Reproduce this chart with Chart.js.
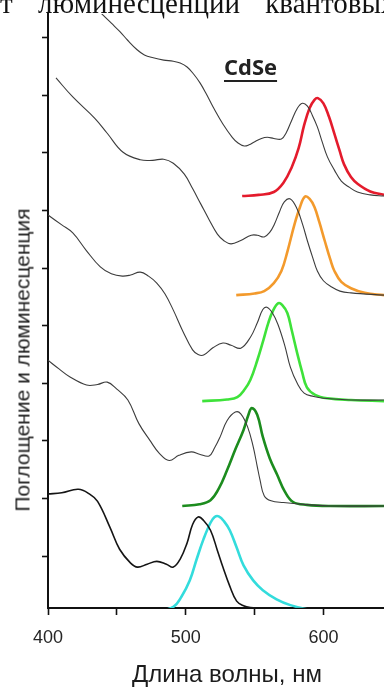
<!DOCTYPE html>
<html>
<head>
<meta charset="utf-8">
<script src="https://cdn.jsdelivr.net/npm/chart.js@4.4.1/dist/chart.umd.min.js"></script>
<style>
  body { margin: 0; background: #fff; }
  #wrap { position: relative; width: 384px; height: 687px; overflow: hidden; }
  canvas { position: absolute; left: 0; top: 0; }
  .txt { position: absolute; white-space: nowrap; color: #1c1c1c; }
  #caption { left: 0; top: -11px; font: 29px "Liberation Serif", "Times New Roman", serif; line-height: 29px; word-spacing: 18px; color: #111; }
  #ytitle { left: 22px; top: 360px; font: 21px "Liberation Sans", Arial, sans-serif; line-height: 21px; transform: translate(-50%, -50%) rotate(-90deg); }
  #xtitle { left: 227px; top: 662px; font: 24px "Liberation Sans", Arial, sans-serif; line-height: 24px; transform: translateX(-50%); }
  #cdse { left: 224px; top: 55px; font: bold 22px "Open Sans", sans-serif; line-height: 22px; color: #222;
          text-decoration: underline; text-decoration-thickness: 2px; text-underline-offset: 5px; }
</style>
</head>
<body>
<div id="wrap">
  <canvas id="spectra" width="384" height="687"></canvas>
  <div class="txt" id="caption">т люминесценции квантовых</div>
  <div class="txt" id="ytitle">Поглощение и люминесценция</div>
  <div class="txt" id="xtitle">Длина волны, нм</div>
  <div class="txt" id="cdse">CdSe</div>
</div>
<script>
// axes
const xTickValues = [400, 450, 500, 550, 600];
const xLabelValues = [400, 500, 600];
const yTickValues = [1, 2, 3, 4, 5, 6, 7, 8, 9, 10];

// spectre d'absorption 1 (le plus bas) + luminescence cyan
const absWl1 = [400, 410, 422, 430, 436, 445, 452, 460, 465, 472, 479, 486, 491, 496, 501, 505, 509, 513, 518, 523, 527, 532, 537, 542, 547, 560, 600, 644];
const absVal1 = [2.08, 2.10, 2.16, 2.08, 1.95, 1.50, 1.12, 0.88, 0.81, 0.86, 0.91, 0.86, 0.81, 0.95, 1.23, 1.55, 1.68, 1.62, 1.45, 1.10, 0.81, 0.48, 0.22, 0.14, 0.11, 0.09, 0.09, 0.09];
const plWl1 = [459.6, 480, 491, 497, 503, 508, 513, 518, 521, 524, 528, 532, 537, 542, 549, 556, 566, 576, 588, 598];
const plVal1 = [0.03, 0.05, 0.12, 0.30, 0.58, 0.95, 1.30, 1.58, 1.68, 1.69, 1.60, 1.45, 1.15, 0.84, 0.58, 0.41, 0.25, 0.15, 0.08, 0.05];

// 2 + vert foncé
const absWl2 = [400, 408, 416, 428, 436, 443, 450, 458, 466, 474, 481, 488, 495, 504, 510, 517, 521, 525, 530, 536, 540, 545, 549, 552, 554, 557, 562, 571, 590, 605, 644];
const absVal2 = [4.40, 4.25, 4.11, 3.97, 3.98, 4.02, 3.90, 3.71, 3.30, 3.01, 2.78, 2.66, 2.75, 2.81, 2.77, 2.74, 2.88, 3.07, 3.35, 3.50, 3.47, 3.24, 2.90, 2.55, 2.32, 2.05, 1.96, 1.93, 1.89, 1.87, 1.87];
const plWl2 = [497.5, 510, 518, 524, 530, 536, 542, 545.5, 548, 552, 556, 561, 566.5, 572, 578, 588, 605, 644];
const plVal2 = [1.87, 1.90, 1.97, 2.17, 2.49, 2.85, 3.19, 3.45, 3.57, 3.45, 3.07, 2.70, 2.41, 2.12, 1.94, 1.89, 1.87, 1.87];

// 3 + vert clair
const absWl3 = [400, 410, 418, 428, 438, 446, 454, 460, 467, 473, 479, 485, 491, 498, 505, 509, 513, 520, 527, 533, 540, 547, 552, 556, 559, 563, 567, 572, 576, 581, 586, 593, 600, 620, 644];
const absVal3 = [6.92, 6.75, 6.61, 6.30, 6.02, 5.90, 5.86, 5.88, 5.93, 5.86, 5.74, 5.55, 5.27, 4.90, 4.58, 4.50, 4.49, 4.62, 4.70, 4.66, 4.61, 4.80, 5.05, 5.28, 5.32, 5.22, 5.02, 4.65, 4.28, 4.00, 3.83, 3.77, 3.74, 3.71, 3.71];
const plWl3 = [512, 530, 537.5, 543, 547, 552, 556.4, 560, 563.6, 567.3, 570, 573.8, 577, 581, 584.5, 588, 594, 603, 620, 644];
const plVal3 = [3.69, 3.72, 3.76, 3.90, 4.06, 4.40, 4.75, 5.05, 5.27, 5.39, 5.36, 5.22, 4.92, 4.52, 4.20, 3.93, 3.80, 3.74, 3.71, 3.69];

// 4 + orange
const absWl4 = [405.8, 418, 434, 443, 454.5, 467, 476, 484, 491, 499, 505, 511, 517, 523, 528, 533, 540, 547.6, 552, 557, 561, 564.4, 568, 571.6, 576, 581, 585, 588.4, 592, 595.6, 600, 606, 612, 620, 644];
const absVal4 = [9.30, 8.97, 8.60, 8.34, 8.01, 7.88, 7.87, 7.89, 7.82, 7.63, 7.38, 7.11, 6.84, 6.59, 6.47, 6.42, 6.48, 6.57, 6.57, 6.54, 6.62, 6.76, 6.97, 7.15, 7.20, 7.02, 6.75, 6.47, 6.20, 5.95, 5.78, 5.67, 5.60, 5.57, 5.53];
const plWl4 = [536.7, 550, 557, 564, 569.5, 574, 579, 583, 586.5, 590, 593.5, 597, 601, 605, 608, 613, 620, 630, 644];
const plVal4 = [5.53, 5.56, 5.60, 5.74, 5.95, 6.30, 6.76, 7.06, 7.24, 7.20, 7.06, 6.80, 6.47, 6.15, 5.95, 5.76, 5.65, 5.57, 5.53];

// 5 (le plus haut) + rouge
const absWl5 = [435, 440, 446, 452.4, 458, 464.7, 470, 476.4, 484, 491, 496, 501, 506, 510.5, 515, 520, 527, 533.8, 538, 542.5, 546, 549.8, 555, 559.3, 564, 569.5, 573, 576.7, 581, 584.7, 588.4, 592, 595.6, 599, 602.9, 608, 613, 619, 624.7, 634, 644];
const absVal5 = [10.51, 10.39, 10.25, 10.10, 9.95, 9.79, 9.70, 9.65, 9.61, 9.59, 9.56, 9.49, 9.36, 9.21, 9.02, 8.79, 8.50, 8.27, 8.17, 8.12, 8.14, 8.19, 8.25, 8.27, 8.25, 8.24, 8.35, 8.55, 8.77, 8.86, 8.81, 8.65, 8.45, 8.20, 7.93, 7.70, 7.51, 7.40, 7.32, 7.27, 7.25];
const plWl5 = [541, 553, 564, 571, 577, 582, 586, 590, 593.5, 596, 600, 604, 608, 612, 615, 620, 625, 634, 644];
const plVal5 = [7.25, 7.27, 7.32, 7.48, 7.75, 8.08, 8.48, 8.78, 8.92, 8.95, 8.86, 8.63, 8.33, 8.02, 7.80, 7.58, 7.46, 7.33, 7.27];

const plColors = ['#33dcdc', '#1c8c1e', '#3ee23a', '#f39a2c', '#e41b2c'];

function curve(wl, val) {
  return wl.map((w, i) => ({ x: w, y: val[i] }));
}

const absSets = [[absWl1, absVal1], [absWl2, absVal2], [absWl3, absVal3], [absWl4, absVal4], [absWl5, absVal5]];
const plSets = [[plWl1, plVal1], [plWl2, plVal2], [plWl3, plVal3], [plWl4, plVal4], [plWl5, plVal5]];

const datasets = [];
absSets.forEach((s, i) => {
  datasets.push({
    data: curve(s[0], s[1]),
    borderColor: i === 0 ? '#151515' : '#3c3c3c',
    borderWidth: i === 0 ? 1.6 : 1.1,
    pointRadius: 0,
    tension: 0.4
  });
});
plSets.forEach((s, i) => {
  datasets.push({
    data: curve(s[0], s[1]),
    borderColor: plColors[i],
    borderWidth: 2.6,
    pointRadius: 0,
    tension: 0.4
  });
});

const tickFont = { family: '"Liberation Sans", Arial, sans-serif', size: 18 };

new Chart(document.getElementById('spectra'), {
  type: 'line',
  data: { datasets: datasets },
  options: {
    responsive: false,
    animation: false,
    layout: { padding: { top: 14, right: 0, left: 0, bottom: 0 }, autoPadding: false },
    plugins: { legend: { display: false }, tooltip: { enabled: false } },
    scales: {
      x: {
        type: 'linear',
        min: 400,
        max: 644,
        afterBuildTicks: s => { s.ticks = xTickValues.map(v => ({ value: v })); },
        afterFit: s => { s.height = 79; },
        ticks: {
          autoSkip: false,
          maxRotation: 0,
          padding: 12,
          color: '#262626',
          font: tickFont,
          callback: v => xLabelValues.includes(v) ? String(v) : ''
        },
        grid: { drawOnChartArea: false, drawTicks: true, tickLength: 7, tickColor: '#111', tickWidth: 1.6 },
        border: { display: true, color: '#111', width: 2 }
      },
      y: {
        type: 'linear',
        min: 0.1,
        max: 10.41,
        afterBuildTicks: s => { s.ticks = yTickValues.map(v => ({ value: v })); },
        afterFit: s => { s.width = 48; },
        ticks: { display: false },
        grid: { drawOnChartArea: false, drawTicks: true, tickLength: 6, tickColor: '#111', tickWidth: 1.6 },
        border: { display: true, color: '#111', width: 2 }
      }
    }
  }
});
</script>
</body>
</html>
